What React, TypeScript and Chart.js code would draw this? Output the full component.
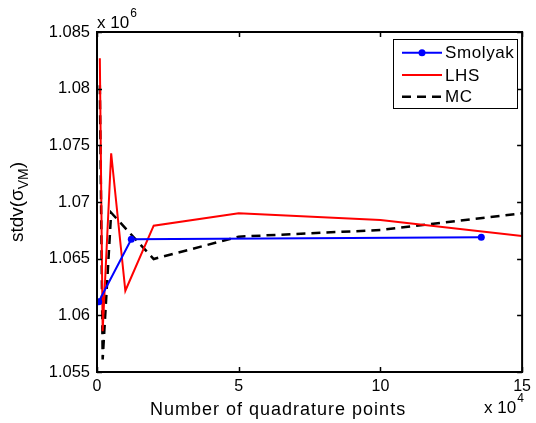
import React, { useEffect, useRef } from 'react';
import { Chart, registerables } from 'chart.js';

Chart.register(...registerables);

// Data (y values in units of 10^6, x in number of points)
const smolyakX = [600, 12100, 135600];
const smolyakY = [1.0612, 1.06671, 1.06689];
const lhsX = [1000, 2000, 5000, 10000, 20000, 50000, 100000, 150000];
const lhsY = [1.08268, 1.0586, 1.0743, 1.06217, 1.06791, 1.069, 1.06841, 1.067];
const mcX = [1000, 2000, 5000, 20000, 50000, 100000, 150000];
const mcY = [1.0803, 1.0561, 1.06906, 1.06497, 1.06694, 1.06753, 1.069];

const xTicks = [0, 50000, 100000, 150000];
const xTickLabels = ['0', '5', '10', '15'];
const yTicks = [1.055, 1.06, 1.065, 1.07, 1.075, 1.08, 1.085];
const yTickLabels = ['1.055', '1.06', '1.065', '1.07', '1.075', '1.08', '1.085'];

const xTitle = 'Number of quadrature points';
const yTitleMain = 'stdv(\u03c3';
const yTitleSub = 'VM';
const yTitleEnd = ')';
const xExp = '4';
const yExp = '6';

const FONT = '"Liberation Sans", Arial, Helvetica, sans-serif';

const toPts = (xs: number[], ys: number[]) => xs.map((x, i) => ({ x, y: ys[i] }));

const decor = {
  id: 'decor',
  afterDraw(chart: any) {
    const { ctx, chartArea: a, scales } = chart;
    const xs = scales.x;
    const ys = scales.y;
    ctx.save();
    // box
    ctx.strokeStyle = '#000';
    ctx.lineWidth = 2;
    ctx.strokeRect(a.left, a.top, a.right - a.left, a.bottom - a.top);
    // inward ticks
    ctx.lineWidth = 1.5;
    const tl = 5;
    ctx.beginPath();
    xs.ticks.forEach((t: any) => {
      const px = Math.round(xs.getPixelForValue(t.value)) + 0.5;
      ctx.moveTo(px, a.bottom);
      ctx.lineTo(px, a.bottom - tl);
      ctx.moveTo(px, a.top);
      ctx.lineTo(px, a.top + tl);
    });
    ys.ticks.forEach((t: any) => {
      const py = Math.round(ys.getPixelForValue(t.value)) + 0.5;
      ctx.moveTo(a.left, py);
      ctx.lineTo(a.left + tl, py);
      ctx.moveTo(a.right, py);
      ctx.lineTo(a.right - tl, py);
    });
    ctx.stroke();

    ctx.fillStyle = '#000';
    ctx.textBaseline = 'alphabetic';
    ctx.textAlign = 'left';
    // y exponent (top-left)
    ctx.font = `17px ${FONT}`;
    ctx.fillText('x 10', a.left, a.top - 4);
    const w1 = ctx.measureText('x 10').width;
    ctx.font = `12px ${FONT}`;
    ctx.fillText(yExp, a.left + w1 + 1, a.top - 15);
    // x exponent (bottom-right)
    ctx.font = `17px ${FONT}`;
    ctx.fillText('x 10', a.right - 38, a.bottom + 41);
    const w2 = ctx.measureText('x 10').width;
    ctx.font = `12px ${FONT}`;
    ctx.fillText(xExp, a.right - 38 + w2 + 1, a.bottom + 30);

    // x title
    ctx.font = `18px ${FONT}`;
    (ctx as any).letterSpacing = '1px';
    ctx.fillText(xTitle, 150, a.bottom + 43);
    (ctx as any).letterSpacing = '0px';

    // y title (rotated)
    ctx.save();
    ctx.translate(23, (a.top + a.bottom) / 2);
    ctx.rotate(-Math.PI / 2);
    ctx.font = `19px ${FONT}`;
    const m1 = ctx.measureText(yTitleMain).width;
    ctx.font = `14px ${FONT}`;
    const m2 = ctx.measureText(yTitleSub).width;
    ctx.font = `19px ${FONT}`;
    const m3 = ctx.measureText(yTitleEnd).width;
    const total = m1 + m2 + m3;
    let cx = -total / 2;
    ctx.fillText(yTitleMain, cx, 0);
    cx += m1;
    ctx.font = `14px ${FONT}`;
    ctx.fillText(yTitleSub, cx, 5);
    cx += m2;
    ctx.font = `19px ${FONT}`;
    ctx.fillText(yTitleEnd, cx, 0);
    ctx.restore();

    // legend
    const lx = 393, ly = 39, lw = 124, lh = 69;
    ctx.fillStyle = '#fff';
    ctx.fillRect(lx, ly, lw, lh);
    ctx.strokeStyle = '#000';
    ctx.lineWidth = 1;
    ctx.strokeRect(lx + 0.5, ly + 0.5, lw, lh);
    const rows = [52.7, 75, 96.7];
    chart.data.datasets.forEach((ds: any, i: number) => {
      const y = rows[i];
      ctx.save();
      ctx.strokeStyle = ds.borderColor;
      ctx.lineWidth = ds.borderWidth;
      ctx.setLineDash(ds.borderDash || []);
      ctx.beginPath();
      ctx.moveTo(402, y);
      ctx.lineTo(442, y);
      ctx.stroke();
      ctx.restore();
      if (ds.pointRadius > 0) {
        ctx.fillStyle = ds.borderColor;
        ctx.beginPath();
        ctx.arc(422, y, ds.pointRadius, 0, Math.PI * 2);
        ctx.fill();
      }
      ctx.fillStyle = '#000';
      ctx.font = `17px ${FONT}`;
      ctx.textBaseline = 'middle';
      (ctx as any).letterSpacing = '0.6px';
      ctx.fillText(ds.label, 445, y + 1);
      (ctx as any).letterSpacing = '0px';
    });
    ctx.restore();
  },
};

export default function App() {
  const ref = useRef<HTMLCanvasElement>(null);
  useEffect(() => {
    const canvas = ref.current!;
    const chart = new Chart(canvas, {
      type: 'line',
      data: {
        datasets: [
          {
            label: 'Smolyak',
            data: toPts(smolyakX, smolyakY),
            borderColor: '#0000ff',
            backgroundColor: '#0000ff',
            borderWidth: 2,
            pointRadius: 3.5,
            pointHoverRadius: 3.5,
            pointBorderWidth: 0,
            fill: false,
            tension: 0,
          },
          {
            label: 'LHS',
            data: toPts(lhsX, lhsY),
            borderColor: '#ff0000',
            backgroundColor: '#ff0000',
            borderWidth: 2,
            pointRadius: 0,
            fill: false,
            tension: 0,
          },
          {
            label: 'MC',
            data: toPts(mcX, mcY),
            borderColor: '#000000',
            backgroundColor: '#000000',
            borderWidth: 2.5,
            borderDash: [9, 6],
            pointRadius: 0,
            fill: false,
            tension: 0,
          },
        ],
      },
      options: {
        animation: false,
        responsive: false,
        maintainAspectRatio: false,
        layout: { padding: { left: 0, top: 32, right: 10, bottom: 0 } },
        plugins: { legend: { display: false }, tooltip: { enabled: false } },
        events: [],
        scales: {
          x: {
            type: 'linear',
            min: 0,
            max: 150000,
            afterBuildTicks: (s: any) => {
              s.ticks = xTicks.map((v) => ({ value: v }));
            },
            afterFit: (s: any) => {
              s.height = 51;
            },
            grid: { display: false, drawTicks: false },
            border: { display: false },
            ticks: {
              padding: 5,
              color: '#000',
              font: { family: FONT, size: 16 },
              maxRotation: 0,
              callback: (v: any) => {
                const i = xTicks.indexOf(Number(v));
                return i >= 0 ? xTickLabels[i] : '';
              },
            },
          },
          y: {
            type: 'linear',
            min: 1.055,
            max: 1.085,
            afterBuildTicks: (s: any) => {
              s.ticks = yTicks.map((v) => ({ value: v }));
            },
            afterFit: (s: any) => {
              s.width = 97;
            },
            grid: { display: false, drawTicks: false },
            border: { display: false },
            ticks: {
              padding: 7,
              color: '#000',
              font: { family: FONT, size: 16.5 },
              callback: (v: any) => {
                const i = yTicks.findIndex((t) => Math.abs(t - Number(v)) < 1e-9);
                return i >= 0 ? yTickLabels[i] : '';
              },
            },
          },
        },
      },
      plugins: [decor],
    });
    return () => chart.destroy();
  }, []);
  return (
    <div style={{ position: 'fixed', left: 0, top: 0, width: 536, height: 423, background: '#fff' }}>
      <canvas ref={ref} width={536} height={423} style={{ width: 536, height: 423, display: 'block' }} />
    </div>
  );
}
